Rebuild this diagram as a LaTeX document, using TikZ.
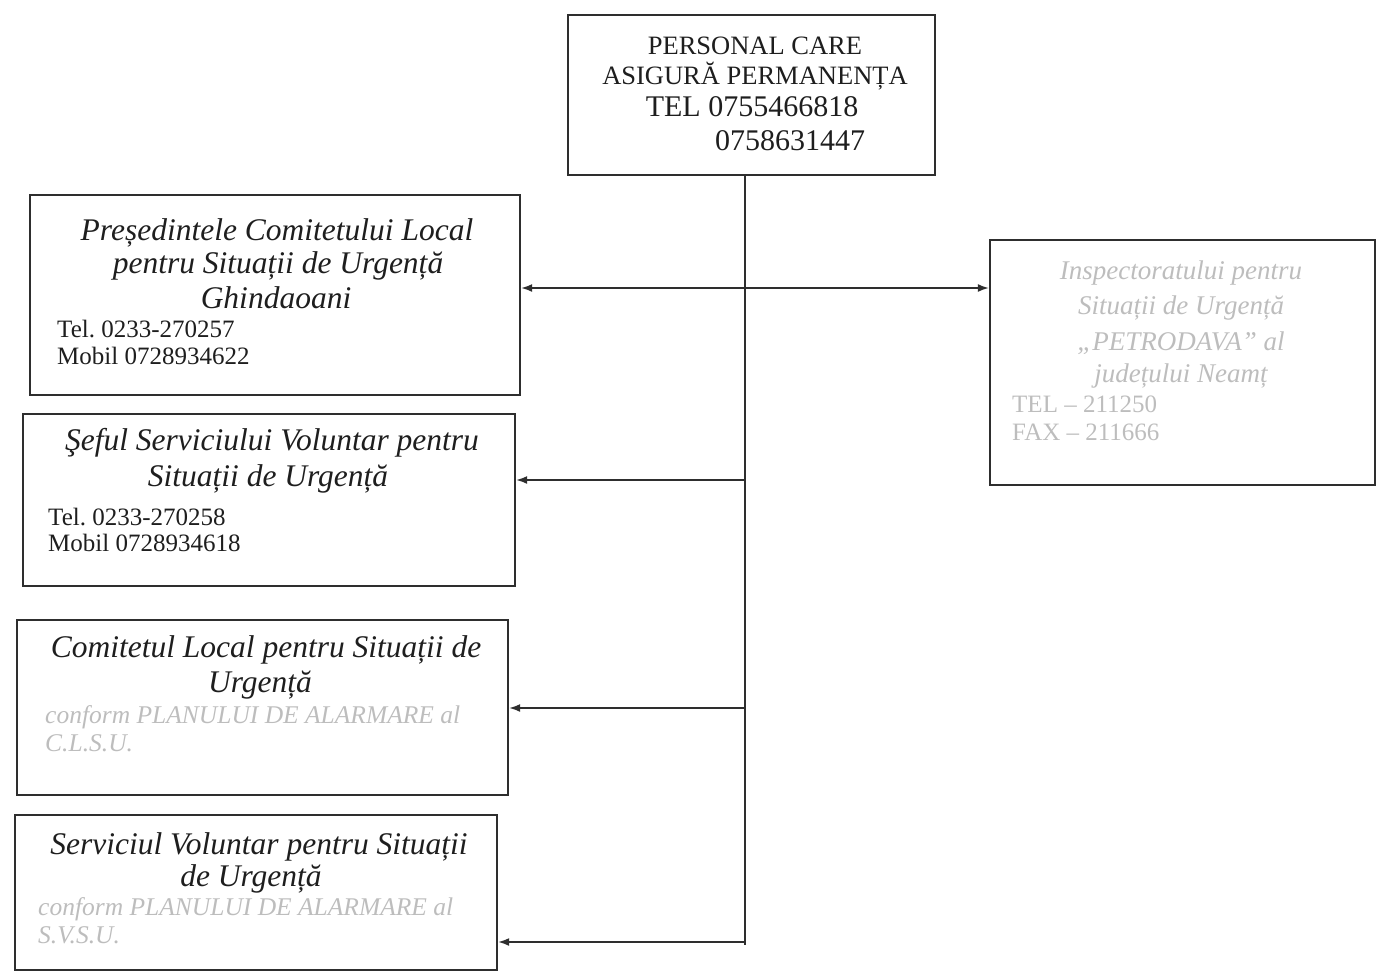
\documentclass[tikz,border=0pt]{standalone}
\usepackage{fontspec}
\setmainfont{Liberation Serif}
\usetikzlibrary{arrows.meta}
\definecolor{boxc}{HTML}{2E2E2E}
\definecolor{txtc}{HTML}{1E1E1E}
\definecolor{faint}{HTML}{BDBDBD}
\frenchspacing
\begin{document}
\begin{tikzpicture}[x=1pt,y=-1pt,
  frame/.style={draw=boxc,line width=2.4pt,inner sep=0pt},
  ttl/.style={font=\fontsize{31.5}{34}\selectfont\itshape,text=txtc,inner sep=0pt,anchor=mid},
  tel/.style={font=\fontsize{25}{28}\selectfont,text=txtc,inner sep=0pt,anchor=mid west},
  capt/.style={font=\fontsize{26.5}{30}\selectfont,text=txtc,inner sep=0pt,anchor=mid},
  phone/.style={font=\fontsize{30}{33}\selectfont,text=txtc,inner sep=0pt,anchor=mid},
  fnt/.style={font=\fontsize{25.5}{28}\selectfont\itshape,text=faint,inner sep=0pt},
  rfnt/.style={font=\fontsize{27}{30}\selectfont\itshape,text=faint,inner sep=0pt,anchor=mid},
  fntup/.style={font=\fontsize{25}{28}\selectfont,text=faint,inner sep=0pt,anchor=mid west},
  conn/.style={draw=boxc,line width=1.6pt},
  arr/.style={conn,-{Latex[length=11pt,width=8pt]}}]
\useasboundingbox (0,0) rectangle (1387,979);
% boxes
\node[frame,minimum width=367pt,minimum height=160pt] (top) at (751.5,95) {};
\node[frame,minimum width=490pt,minimum height=200pt] (b1) at (275,295) {};
\node[frame,minimum width=492pt,minimum height=172pt] (b2) at (269,500) {};
\node[frame,minimum width=491pt,minimum height=175pt] (b3) at (262.5,707.5) {};
\node[frame,minimum width=482pt,minimum height=155pt] (b4) at (256,892.5) {};
\node[frame,minimum width=385pt,minimum height=245pt] (rb) at (1182.5,362.5) {};
% top box text
\node[capt] (t1) at (755,52) {PERSONAL CARE};
\node[capt] (t2) at (755,82) {ASIGURĂ PERMANENȚA};
\node[phone] (t3) at (752,114) {TEL 0755466818};
\node[phone] (t4) at (790,148) {0758631447};
% box 1
\node[ttl] (a1) at (277,238) {Președintele Comitetului Local};
\node[ttl] (a2) at (278,271) {pentru Situații de Urgență};
\node[ttl] (a3) at (276,306) {Ghindaoani};
\node[tel] (a4) at (57,335) {Tel. 0233-270257};
\node[tel] (a5) at (57,362) {Mobil 0728934622};
% box 2
\node[ttl] (c1) at (272,448) {Şeful Serviciului Voluntar pentru};
\node[ttl] (c2) at (268,484) {Situații de Urgență};
\node[tel] (c3) at (48,523) {Tel. 0233-270258};
\node[tel] (c4) at (48,549) {Mobil 0728934618};
% box 3
\node[ttl] (d1) at (266,655) {Comitetul Local pentru Situații de};
\node[ttl] (d2) at (260,690) {Urgență};
\node[fnt,anchor=mid west] (d3) at (45,721) {conform PLANULUI DE ALARMARE al};
\node[fnt,anchor=mid west] (d4) at (45,749) {C.L.S.U.};
% box 4
\node[ttl] (e1) at (259,852) {Serviciul Voluntar pentru Situații};
\node[ttl] (e2) at (251,884) {de Urgență};
\node[fnt,anchor=mid west] (e3) at (38,913) {conform PLANULUI DE ALARMARE al};
\node[fnt,anchor=mid west] (e4) at (38,941) {S.V.S.U.};
% right box
\node[rfnt] (r1) at (1181,277) {Inspectoratului pentru};
\node[rfnt] (r2) at (1181,312) {Situații de Urgență};
\node[rfnt] (r3) at (1181,348) {„PETRODAVA” al};
\node[rfnt] (r4) at (1181,380) {județului Neamț};
\node[fntup] (r5) at (1012,410) {TEL – 211250};
\node[fntup] (r6) at (1012,438) {FAX – 211666};
% connectors
\coordinate (sb) at (745,945);
\coordinate (j1) at (745,288);
\coordinate (j2) at (745,480);
\coordinate (j3) at (745,708);
\coordinate (j4) at (745,942);
\draw[conn] (top.south -| sb) -- (sb);
\draw[conn,{Latex[length=11pt,width=8pt]}-{Latex[length=11pt,width=8pt]}] (j1 -| b1.east) -- (j1 -| rb.west);
\draw[arr] (j2) -- (j2 -| b2.east);
\draw[arr] (j3) -- (j3 -| b3.east);
\draw[arr] (j4) -- (j4 -| b4.east);
\end{tikzpicture}
\end{document}
